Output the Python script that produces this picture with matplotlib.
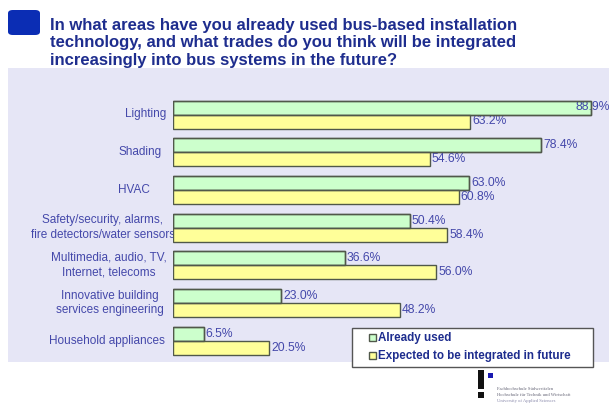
import matplotlib
matplotlib.use("Agg")
import matplotlib.pyplot as plt
from matplotlib.patches import Rectangle, FancyBboxPatch

categories = ["Lighting", "Shading", "HVAC",
              "Safety/security, alarms,\nfire detectors/water sensors",
              "Multimedia, audio, TV,\nInternet, telecoms",
              "Innovative building\nservices engineering",
              "Household appliances"]
already_used = [88.9, 78.4, 63.0, 50.4, 36.6, 23.0, 6.5]
expected_future = [63.2, 54.6, 60.8, 58.4, 56.0, 48.2, 20.5]
series_names = ["Already used", "Expected to be integrated in future"]
title_lines = ["In what areas have you already used bus-based installation",
               "technology, and what trades do you think will be integrated",
               "increasingly into bus systems in the future?"]
logo_lines = ["Fachhochschule Südwestfalen",
              "Hochschule für Technik und Wirtschaft",
              "University of Applied Sciences"]

W, H = 609, 405
fig = plt.figure(figsize=(W / 100, H / 100), dpi=100)
fig.patch.set_facecolor("white")

plt.rcParams['font.family'] = ['Liberation Sans', 'DejaVu Sans']

def fx(px):
    return px / W

def fy(py):
    return 1 - py / H

text_blue = "#4448aa"
title_blue = "#1e2d8e"
lavender = "#e6e6f6"
green = "#ccffcc"
yellow = "#ffff99"
edge = "#50584a"

# background panel
fig.patches.append(Rectangle((fx(8), fy(362)), fx(601), 294 / H,
                             transform=fig.transFigure, facecolor=lavender,
                             edgecolor="none", zorder=-2))
# blue square
fig.patches.append(FancyBboxPatch((fx(8), fy(35)), fx(32), 25 / H,
                                  boxstyle="round,pad=0,rounding_size=0.008",
                                  transform=fig.transFigure, facecolor="#0b2db4",
                                  edgecolor="none", zorder=1))
for i, line in enumerate(title_lines):
    fig.text(fx(50), fy(30 + i * 17.5), line, ha="left", va="baseline",
             fontsize=12.0, fontweight="bold", color=title_blue)

# axes
x0, x1 = 173, 609
px_per_unit = 4.70
y_top, y_bot = 68, 362
gc0, gsp = 114.5, 37.7
ax = fig.add_axes([fx(x0), fy(y_bot), fx(x1 - x0), (y_bot - y_top) / H])
ax.set_facecolor("none")
ax.set_xlim(0, (x1 - x0) / px_per_unit)
ax.set_ylim((y_bot - gc0) / gsp, (y_top - gc0) / gsp)
for s in ax.spines.values():
    s.set_visible(False)
ax.set_xticks([])
ax.set_yticks([])

bh = 14 / gsp
ypos = list(range(len(categories)))
ax.barh([y - bh / 2 for y in ypos], already_used, height=bh, color=green,
        edgecolor=edge, linewidth=1.0, zorder=2)
ax.barh([y + bh / 2 for y in ypos], expected_future, height=bh, color=yellow,
        edgecolor=edge, linewidth=1.0, zorder=2)
# outline redrawn on top so that a label running into the bar end is crossed by it
ax.barh([y - bh / 2 for y in ypos], already_used, height=bh, color="none",
        edgecolor=edge, linewidth=1.0, zorder=4)

xmax = (x1 - x0) / px_per_unit
for y, v in zip(ypos, already_used):
    inside = v + 7.5 > xmax
    ax.annotate(f"{v:.1f}%", (v, y - bh / 2), xytext=(-15 if inside else 2, 0),
                textcoords="offset pixels", va="center", ha="left",
                fontsize=8.7, color=text_blue, zorder=3)
for y, v in zip(ypos, expected_future):
    ax.annotate(f"{v:.1f}%", (v, y + bh / 2), xytext=(2, 0),
                textcoords="offset pixels", va="center", ha="left",
                fontsize=8.7, color=text_blue, zorder=3)

# category labels (right edge in figure pixels)
label_right_px = [166, 162, 150, 175, 167, 164, 165]
for y, lab, rx in zip(ypos, categories, label_right_px):
    ax.annotate(lab, (rx, y), xycoords=("figure pixels", "data"),
                ha="right", va="center", multialignment="center",
                fontsize=8.5, color=text_blue, linespacing=1.3,
                annotation_clip=False, zorder=1)

# legend
fig.patches.append(Rectangle((fx(352), fy(367)), fx(241), 39 / H,
                             transform=fig.transFigure, facecolor="white",
                             edgecolor="#555555", linewidth=1.0, zorder=5))
for i, (name, col) in enumerate(zip(series_names, [green, yellow])):
    py = 337.5 + i * 18
    fig.patches.append(Rectangle((fx(369), fy(py + 3.5)), fx(7), 7 / H,
                                 transform=fig.transFigure, facecolor=col,
                                 edgecolor=edge, linewidth=1.0, zorder=6))
    fig.text(fx(378.5), fy(py), name, ha="left", va="center", fontsize=8.4,
             fontweight="bold", color=title_blue, zorder=7)

# logo
fig.patches.append(Rectangle((fx(478), fy(389)), fx(6), 19 / H,
                             transform=fig.transFigure, facecolor="#111111",
                             edgecolor="none", zorder=5))
fig.patches.append(Rectangle((fx(478), fy(398)), fx(6), 6 / H,
                             transform=fig.transFigure, facecolor="#111111",
                             edgecolor="none", zorder=5))
fig.patches.append(Rectangle((fx(488), fy(378)), fx(5), 5 / H,
                             transform=fig.transFigure, facecolor="#1a1ab0",
                             edgecolor="none", zorder=5))
for i, line in enumerate(logo_lines):
    fig.text(fx(497), fy(389 + i * 6), line, ha="left", va="center",
             fontsize=3.3, color="#666677" if i < 2 else "#8888aa",
             family=["Liberation Serif", "DejaVu Serif"])

fig.savefig("out.png", dpi=100)
